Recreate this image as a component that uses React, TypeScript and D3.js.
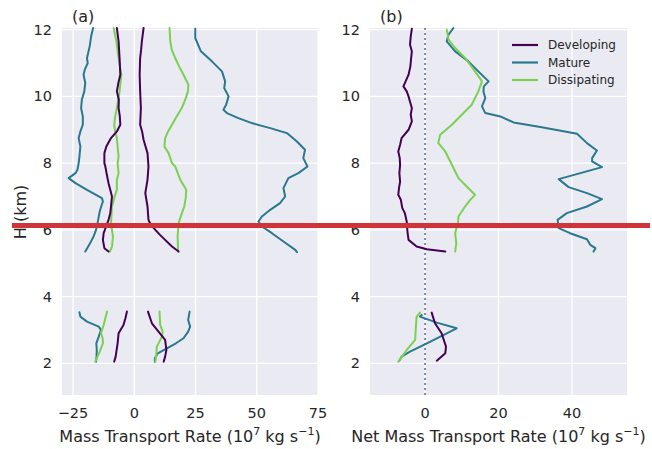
import React from "react";
import * as d3 from "d3";

// ---------- data: [height km, rate] ----------
const stages = ["Developing", "Mature", "Dissipating"];
const stageColors = ["#440154", "#2a788e", "#7ad151"];

// Panel (a): mass transport rate, upper layer
const devNegA = [[12.05,-7.1],[11.65,-6.4],[11.15,-6.0],[10.65,-5.7],[10.4,-6.5],[10.15,-7.1],[9.9,-6.3],[9.65,-6.4],[9.4,-5.9],[9.15,-5.7],[8.95,-7.1],[8.75,-9.5],[8.5,-11.4],[8.3,-12.2],[8.0,-12.2],[7.9,-11.8],[7.65,-11.2],[7.4,-10.5],[7.2,-9.8],[7.0,-9.1],[6.7,-9.5],[6.5,-9.8],[6.3,-10.5],[6.1,-11.5],[5.9,-12.5],[5.7,-12.8],[5.45,-12.2],[5.35,-10.5]];
const disNegA = [[12.05,-8.4],[11.65,-7.3],[11.15,-6.4],[10.65,-5.3],[10.15,-6.0],[9.65,-7.1],[9.4,-7.8],[9.15,-8.2],[8.95,-7.8],[8.75,-7.1],[8.5,-6.8],[8.2,-6.4],[8.0,-6.8],[7.7,-6.4],[7.5,-7.1],[7.2,-7.1],[6.95,-8.2],[6.7,-9.1],[6.45,-9.3],[6.2,-9.5],[5.8,-8.7],[5.5,-9.1],[5.35,-10.0]];
const matNegA = [[12.05,-16.8],[11.8,-17.6],[11.5,-18.2],[11.15,-19.3],[11.0,-19.0],[10.8,-20.2],[10.65,-20.7],[10.4,-20.0],[10.15,-20.4],[9.9,-21.4],[9.65,-21.7],[9.4,-21.0],[9.15,-21.0],[8.95,-22.0],[8.75,-22.7],[8.5,-22.0],[8.25,-22.3],[8.0,-22.7],[7.8,-23.2],[7.7,-24.0],[7.55,-26.8],[7.4,-24.0],[7.2,-19.3],[6.95,-13.2],[6.85,-12.8],[6.7,-13.5],[6.55,-14.1],[6.35,-14.6],[6.2,-15.0],[6.0,-15.6],[5.8,-16.6],[5.55,-18.4],[5.35,-20.0]];
const devPosA = [[12.05,3.8],[11.65,3.1],[11.4,2.8],[11.15,2.4],[10.65,2.2],[10.15,2.4],[9.65,2.7],[9.15,2.4],[8.95,3.2],[8.7,3.8],[8.5,4.6],[8.3,5.4],[7.9,5.8],[7.5,5.4],[7.1,4.5],[6.7,5.4],[6.3,5.8],[6.15,6.8],[6.0,8.6],[5.85,10.5],[5.7,12.6],[5.5,15.4],[5.35,18.1]];
const disPosA = [[12.05,14.4],[11.65,14.7],[11.4,15.3],[11.15,16.7],[10.9,18.3],[10.65,20.1],[10.35,22.1],[10.15,21.9],[9.9,20.8],[9.65,19.4],[9.4,17.3],[9.15,15.4],[8.95,13.8],[8.75,12.6],[8.5,12.3],[8.3,14.0],[8.0,15.4],[7.9,16.7],[7.5,18.8],[7.2,21.2],[6.95,21.0],[6.7,20.4],[6.45,19.2],[6.2,18.1],[5.8,17.7],[5.35,17.9]];
const matPosA = [[12.03,24.9],[11.75,24.9],[11.35,27.2],[11.05,31.7],[10.75,35.8],[10.45,37.1],[10.25,36.7],[10.0,38.5],[9.75,37.5],[9.6,36.4],[9.5,37.8],[9.35,42.5],[9.2,48.0],[9.05,55.5],[8.9,62.3],[8.65,66.4],[8.4,69.7],[8.15,69.0],[7.9,70.7],[7.7,67.0],[7.55,62.9],[7.25,60.9],[7.0,61.6],[6.8,59.5],[6.6,55.5],[6.4,52.1],[6.25,50.7],[6.1,52.1],[5.9,56.2],[5.65,60.9],[5.4,65.7],[5.33,66.4]];

// Panel (a): lower layer
const matNegALow = [[3.53,-22.4],[3.4,-22.0],[3.25,-19.3],[3.1,-14.5],[3.0,-13.6],[2.8,-14.5],[2.6,-15.5],[2.4,-15.3],[2.2,-15.4],[2.05,-15.6]];
const disNegALow = [[3.55,-11.1],[3.35,-11.8],[3.15,-12.5],[2.9,-13.6],[2.75,-12.9],[2.6,-12.8],[2.35,-14.1],[2.2,-15.0],[2.05,-15.9]];
const devNegALow = [[3.55,-3.0],[3.35,-3.6],[3.15,-4.4],[2.9,-6.4],[2.6,-6.8],[2.35,-7.3],[2.2,-7.6],[2.05,-8.2]];
const devPosALow = [[3.55,5.6],[3.2,7.2],[2.95,9.9],[2.7,12.6],[2.4,13.1],[2.2,12.6],[2.05,12.0]];
const disPosALow = [[3.55,10.3],[3.15,10.6],[2.95,11.6],[2.8,11.3],[2.5,9.2],[2.25,9.0],[2.05,8.6]];
const matPosALow = [[3.55,22.6],[3.3,22.0],[3.1,22.8],[2.95,22.0],[2.75,20.1],[2.6,17.0],[2.45,13.3],[2.3,9.6],[2.15,8.4],[2.05,8.4]];

// Panel (b): net mass transport rate
const devB = [[12.03,-3.6],[11.8,-3.9],[11.55,-4.1],[11.35,-3.6],[11.15,-3.8],[10.9,-4.0],[10.65,-4.5],[10.45,-5.3],[10.3,-5.9],[10.15,-5.0],[10.0,-4.5],[9.8,-4.0],[9.65,-3.6],[9.45,-3.9],[9.25,-3.6],[9.0,-4.5],[8.75,-6.4],[8.55,-6.8],[8.35,-7.3],[8.15,-6.9],[7.95,-6.8],[7.7,-7.0],[7.45,-6.8],[7.25,-7.1],[7.05,-7.3],[6.9,-6.6],[6.65,-6.2],[6.5,-5.5],[6.25,-5.0],[5.95,-4.8],[5.7,-4.5],[5.5,-2.3],[5.42,0.5],[5.35,5.5]];
const matB = [[12.05,7.7],[11.85,6.4],[11.65,5.9],[11.35,8.2],[11.05,11.8],[10.75,14.5],[10.45,17.3],[10.3,16.0],[10.15,15.9],[9.95,16.4],[9.7,15.5],[9.5,16.4],[9.4,20.5],[9.22,24.1],[9.08,31.4],[8.88,41.4],[8.6,44.1],[8.38,46.8],[8.15,45.5],[8.05,45.5],[7.88,48.2],[7.7,42.3],[7.52,36.4],[7.28,39.1],[7.1,44.1],[6.92,48.2],[6.7,44.1],[6.5,38.6],[6.3,36.1],[6.05,36.4],[5.9,39.5],[5.72,44.1],[5.55,45.0],[5.45,46.4],[5.35,45.9]];
const disB = [[12.0,5.9],[11.7,6.4],[11.45,8.2],[11.15,10.9],[10.75,13.6],[10.45,15.5],[10.15,14.5],[9.75,12.7],[9.45,10.0],[9.15,7.3],[8.85,4.1],[8.6,3.6],[8.35,5.5],[7.95,7.3],[7.55,9.1],[7.15,12.7],[7.05,13.6],[6.9,12.3],[6.7,10.9],[6.4,9.1],[6.25,9.0],[5.9,8.2],[5.6,8.5],[5.35,8.2]];
const devBLow = [[3.52,1.8],[3.2,2.7],[2.9,4.5],[2.5,5.7],[2.3,5.5],[2.08,3.2]];
const matBLow = [[3.45,-0.9],[3.4,-1.4],[3.22,3.2],[3.05,8.6],[2.9,5.9],[2.6,0.5],[2.35,-4.1],[2.2,-6.4],[2.08,-7.0]];
const disBLow = [[3.52,-1.4],[3.4,-2.3],[3.1,-2.5],[2.7,-2.7],[2.4,-5.0],[2.12,-6.8],[2.05,-7.3]];

const yTicks = [2, 4, 6, 8, 10, 12];
const xTicksA = [-25, 0, 25, 50, 75];
const xTicksB = [0, 20, 40];

const FONT = "'DejaVu Sans', sans-serif";
const TXT = "#262626";

type Series = { data: number[][]; stage: number };

const seriesA: Series[] = [
  { data: matNegA, stage: 1 }, { data: matPosA, stage: 1 },
  { data: matNegALow, stage: 1 }, { data: matPosALow, stage: 1 },
  { data: disNegA, stage: 2 }, { data: disPosA, stage: 2 },
  { data: disNegALow, stage: 2 }, { data: disPosALow, stage: 2 },
  { data: devNegA, stage: 0 }, { data: devPosA, stage: 0 },
  { data: devNegALow, stage: 0 }, { data: devPosALow, stage: 0 },
];
const seriesB: Series[] = [
  { data: matB, stage: 1 }, { data: matBLow, stage: 1 },
  { data: disB, stage: 2 }, { data: disBLow, stage: 2 },
  { data: devB, stage: 0 }, { data: devBLow, stage: 0 },
];

const fmt = (v: number) => (v < 0 ? "\u2212" + Math.abs(v) : String(v));

function Panel({ x0, x1, domain, xTicks, series, label, xLabelPre, zeroLine, legend }: any) {
  const top = 28, bottom = 395;
  const x = d3.scaleLinear().domain(domain).range([x0, x1]);
  const y = d3.scaleLinear().domain([1.05, 12.05]).range([bottom, top]);
  const line = d3.line<number[]>().x((d) => x(d[1])).y((d) => y(d[0]));
  return (
    <g>
      <rect x={x0} y={top} width={x1 - x0} height={bottom - top} fill="#eaeaf2" />
      {yTicks.map((t) => (
        <line key={"gy" + t} x1={x0} x2={x1} y1={y(t)} y2={y(t)} stroke="#fff" strokeWidth={1.3} />
      ))}
      {xTicks.map((t: number) => (
        <line key={"gx" + t} x1={x(t)} x2={x(t)} y1={top} y2={bottom} stroke="#fff" strokeWidth={1.3} />
      ))}
      {zeroLine && (
        <line x1={x(0)} x2={x(0)} y1={top} y2={bottom} stroke="#7a8aa8" strokeWidth={2} strokeDasharray="2,3" />
      )}
      {series.map((s: Series, i: number) => (
        <path key={i} d={line(s.data) || ""} fill="none" stroke={stageColors[s.stage]} strokeWidth={2} strokeLinejoin="round" strokeLinecap="round" />
      ))}
      {yTicks.map((t) => (
        <text key={"ty" + t} x={x0 - 10} y={y(t)} dy="0.35em" textAnchor="end" fontSize={14.5} fill={TXT} fontFamily={FONT}>{t}</text>
      ))}
      {xTicks.map((t: number) => (
        <text key={"tx" + t} x={x(t)} y={413} dy="0.35em" textAnchor="middle" fontSize={14.5} fill={TXT} fontFamily={FONT}>{fmt(t)}</text>
      ))}
      <text x={(x0 + x1) / 2} y={436} dy="0.35em" textAnchor="middle" fontSize={16} fill={TXT} fontFamily={FONT}>
        {xLabelPre}(10<tspan dy="-7" fontSize={11}>7</tspan><tspan dy="7"> kg s</tspan><tspan dy="-7" fontSize={11}>{"\u22121"}</tspan><tspan dy="7">)</tspan>
      </text>
      <text x={x0 + 10} y={16} dy="0.35em" fontSize={16} fill={TXT} fontFamily={FONT}>{label}</text>
      {legend && stages.map((s, i) => (
        <g key={s}>
          <line x1={512} x2={538} y1={45 + i * 17.5} y2={45 + i * 17.5} stroke={stageColors[i]} strokeWidth={2.2} />
          <text x={548} y={45 + i * 17.5} dy="0.35em" fontSize={12} fill={TXT} fontFamily={FONT}>{s}</text>
        </g>
      ))}
    </g>
  );
}

export default function App() {
  return (
    <svg width={652} height={449} style={{ display: "block", position: "absolute", left: 0, top: 0, background: "#fff" }}>
      <rect width={652} height={449} fill="#fff" />
      <Panel x0={62} x1={318} domain={[-29.5, 75]} xTicks={xTicksA} series={seriesA} label="(a)" xLabelPre="Mass Transport Rate " />
      <Panel x0={370} x1={627} domain={[-15, 55]} xTicks={xTicksB} series={seriesB} label="(b)" xLabelPre="Net Mass Transport Rate " zeroLine legend />
      <text transform="translate(20,212) rotate(-90)" textAnchor="middle" dy="0.35em" fontSize={16} fill={TXT} fontFamily={FONT}>H (km)</text>
      <rect x={12} y={223} width={638} height={5} fill="#d13438" />
    </svg>
  );
}
